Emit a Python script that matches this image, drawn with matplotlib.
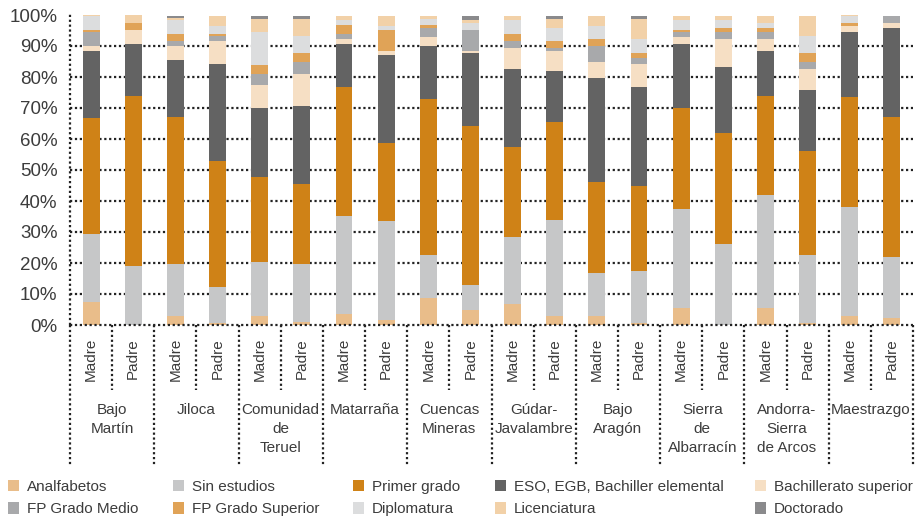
import matplotlib
matplotlib.use("Agg")
import matplotlib.pyplot as plt
from matplotlib.patches import Patch

# ---------------- data ----------------
regions = ["Bajo\nMartín", "Jiloca", "Comunidad\nde\nTeruel", "Matarraña", "Cuencas\nMineras",
           "Gúdar-\nJavalambre", "Bajo\nAragón", "Sierra\nde\nAlbarracín", "Andorra-\nSierra\nde Arcos",
           "Maestrazgo"]
parents = ["Madre", "Padre"]
y_ticks = [0, 10, 20, 30, 40, 50, 60, 70, 80, 90, 100]
y_tick_labels = [f"{v}%" for v in y_ticks]

levels = ["Analfabetos", "Sin estudios", "Primer grado", "ESO, EGB, Bachiller elemental",
          "Bachillerato superior", "FP Grado Medio", "FP Grado Superior", "Diplomatura",
          "Licenciatura", "Doctorado"]

# values per bar (Madre, Padre for each region, in order)
analfabetos   = [7.3, 0.0, 2.8, 0.5, 2.8, 1.1, 3.4, 1.5, 8.6, 4.9, 6.7, 2.8, 2.8, 0.5, 5.6, 0.0, 5.6, 0.5, 2.8, 2.2]
sin_estudios  = [22.2, 19.1, 17.0, 11.9, 17.6, 18.7, 31.9, 32.2, 14.1, 8.1, 21.8, 31.2, 14.1, 17.0, 31.9, 26.2, 36.4, 22.2, 35.4, 19.8]
primer_grado  = [37.2, 54.9, 47.4, 40.6, 27.4, 25.8, 41.6, 25.1, 50.3, 51.3, 29.0, 31.6, 29.3, 27.4, 32.6, 35.8, 32.0, 33.5, 35.5, 45.2]
eso           = [21.8, 16.8, 18.4, 31.3, 22.3, 25.2, 13.9, 28.4, 17.1, 23.5, 25.2, 16.4, 33.6, 32.0, 20.7, 21.3, 14.5, 19.7, 20.9, 28.7]
bach_superior = [1.6, 4.5, 4.5, 7.4, 7.4, 10.3, 1.6, 1.3, 2.9, 0.7, 6.8, 6.5, 5.1, 7.4, 2.2, 9.1, 3.9, 6.8, 2.0, 1.6]
fp_medio      = [4.5, 0.0, 1.6, 1.4, 3.6, 3.8, 1.4, 0.0, 2.9, 6.8, 2.2, 1.0, 5.2, 1.9, 1.6, 2.2, 2.2, 2.2, 0.0, 2.3]
fp_superior   = [0.7, 2.2, 2.3, 0.7, 2.9, 2.9, 3.1, 6.8, 1.0, 0.0, 2.3, 2.2, 2.3, 1.6, 0.7, 1.3, 1.3, 2.9, 0.9, 0.0]
diplomatura   = [4.5, 0.0, 4.3, 2.8, 10.6, 5.3, 1.4, 1.3, 1.9, 2.2, 4.3, 4.2, 4.2, 4.6, 3.0, 2.4, 1.6, 5.3, 2.3, 0.0]
licenciatura  = [0.2, 2.5, 0.6, 3.2, 4.2, 5.7, 1.5, 3.2, 1.0, 0.8, 1.5, 2.9, 3.2, 6.4, 1.5, 1.5, 2.3, 6.7, 0.2, 0.0]
doctorado     = [0.0, 0.0, 0.9, 0.0, 1.0, 1.0, 0.0, 0.0, 0.0, 1.5, 0.0, 1.0, 0.0, 1.0, 0.0, 0.0, 0.0, 0.0, 0.0, 0.0]

series = [analfabetos, sin_estudios, primer_grado, eso, bach_superior,
          fp_medio, fp_superior, diplomatura, licenciatura, doctorado]
colors = ["#E9BD8A", "#C6C7C8", "#CF8217", "#636363", "#F6DFC4",
          "#A8A9AB", "#E0A357", "#DCDDDE", "#F2D1A8", "#8A8A8C"]

plt.rcParams["font.family"] = ["Liberation Sans", "DejaVu Sans"]
TXT = "#3c3c3c"

fig = plt.figure(figsize=(9.15, 5.18), dpi=100)
W, H = 915, 518
ax_left, ax_right, ax_bottom, ax_top = 70, 913, 325, 15
ax = fig.add_axes([ax_left / W, 1 - ax_bottom / H, (ax_right - ax_left) / W, (ax_bottom - ax_top) / H])

n = len(analfabetos)
x = list(range(n))
bottom = [0.0] * n
for vals, col, lab in zip(series, colors, levels):
    ax.bar(x, vals, width=0.40, bottom=bottom, color=col, label=lab, zorder=3, linewidth=0)
    bottom = [b + v for b, v in zip(bottom, vals)]

ax.set_xlim(-0.5, n - 0.5)
ax.set_ylim(0, 100)
ax.set_yticks(y_ticks)
ax.set_yticklabels(y_tick_labels, fontsize=13.5, color=TXT)
ax.tick_params(axis="y", length=0, pad=9)
ax.set_xticks([])
for s in ["top", "right", "bottom", "left"]:
    ax.spines[s].set_visible(False)

dot = dict(color="#222222", linewidth=1.6, linestyle=(0, (1, 1.2)), dash_capstyle="butt")
# horizontal gridlines
for v in y_ticks[1:-1]:
    ax.axhline(v, zorder=1, **dot)
# baseline and y-axis
ax.plot([-0.5, n - 0.5], [0, 0], clip_on=False, zorder=4, **dot)
ax.plot([-0.5, -0.5], [0, 100.8], clip_on=False, zorder=4, **dot)

tr = ax.get_xaxis_transform()
axh = ax_bottom - ax_top
def ay(px):
    return (ax_bottom - px) / axh

# group separators (long) and madre/padre separators (short)
for g in range(len(regions) + 1):
    xs = g * 2 - 0.5
    ax.plot([xs, xs], [0, ay(466)], transform=tr, clip_on=False, **dot)
for g in range(len(regions)):
    xs = g * 2 + 0.5
    ax.plot([xs, xs], [0, ay(390)], transform=tr, clip_on=False, **dot)

# Madre / Padre labels
for i in range(n):
    ax.text(i, ay(338), parents[i % 2], rotation=90, ha="center", va="top",
            fontsize=11, color=TXT, transform=tr)
# region labels
for g, r in enumerate(regions):
    ax.text(g * 2 + 0.5, ay(403), r, ha="center", va="top", fontsize=11,
            color=TXT, transform=tr, linespacing=1.45)

# legend: 5 columns placed at the reference positions, row-major order
handles = [Patch(facecolor=c, edgecolor="none", label=l) for c, l in zip(colors, levels)]
col_x = [8, 173, 353, 495, 755]
for ci, cx in enumerate(col_x):
    fig.legend(handles=[handles[ci], handles[ci + 5]], loc="upper left",
               bbox_to_anchor=(cx / W, 1 - 480 / H), frameon=False, fontsize=11,
               handlelength=0.75, handleheight=0.75, handletextpad=0.5,
               labelspacing=0.55, borderpad=0, borderaxespad=0, labelcolor=TXT)

fig.savefig("out.png", dpi=100)
